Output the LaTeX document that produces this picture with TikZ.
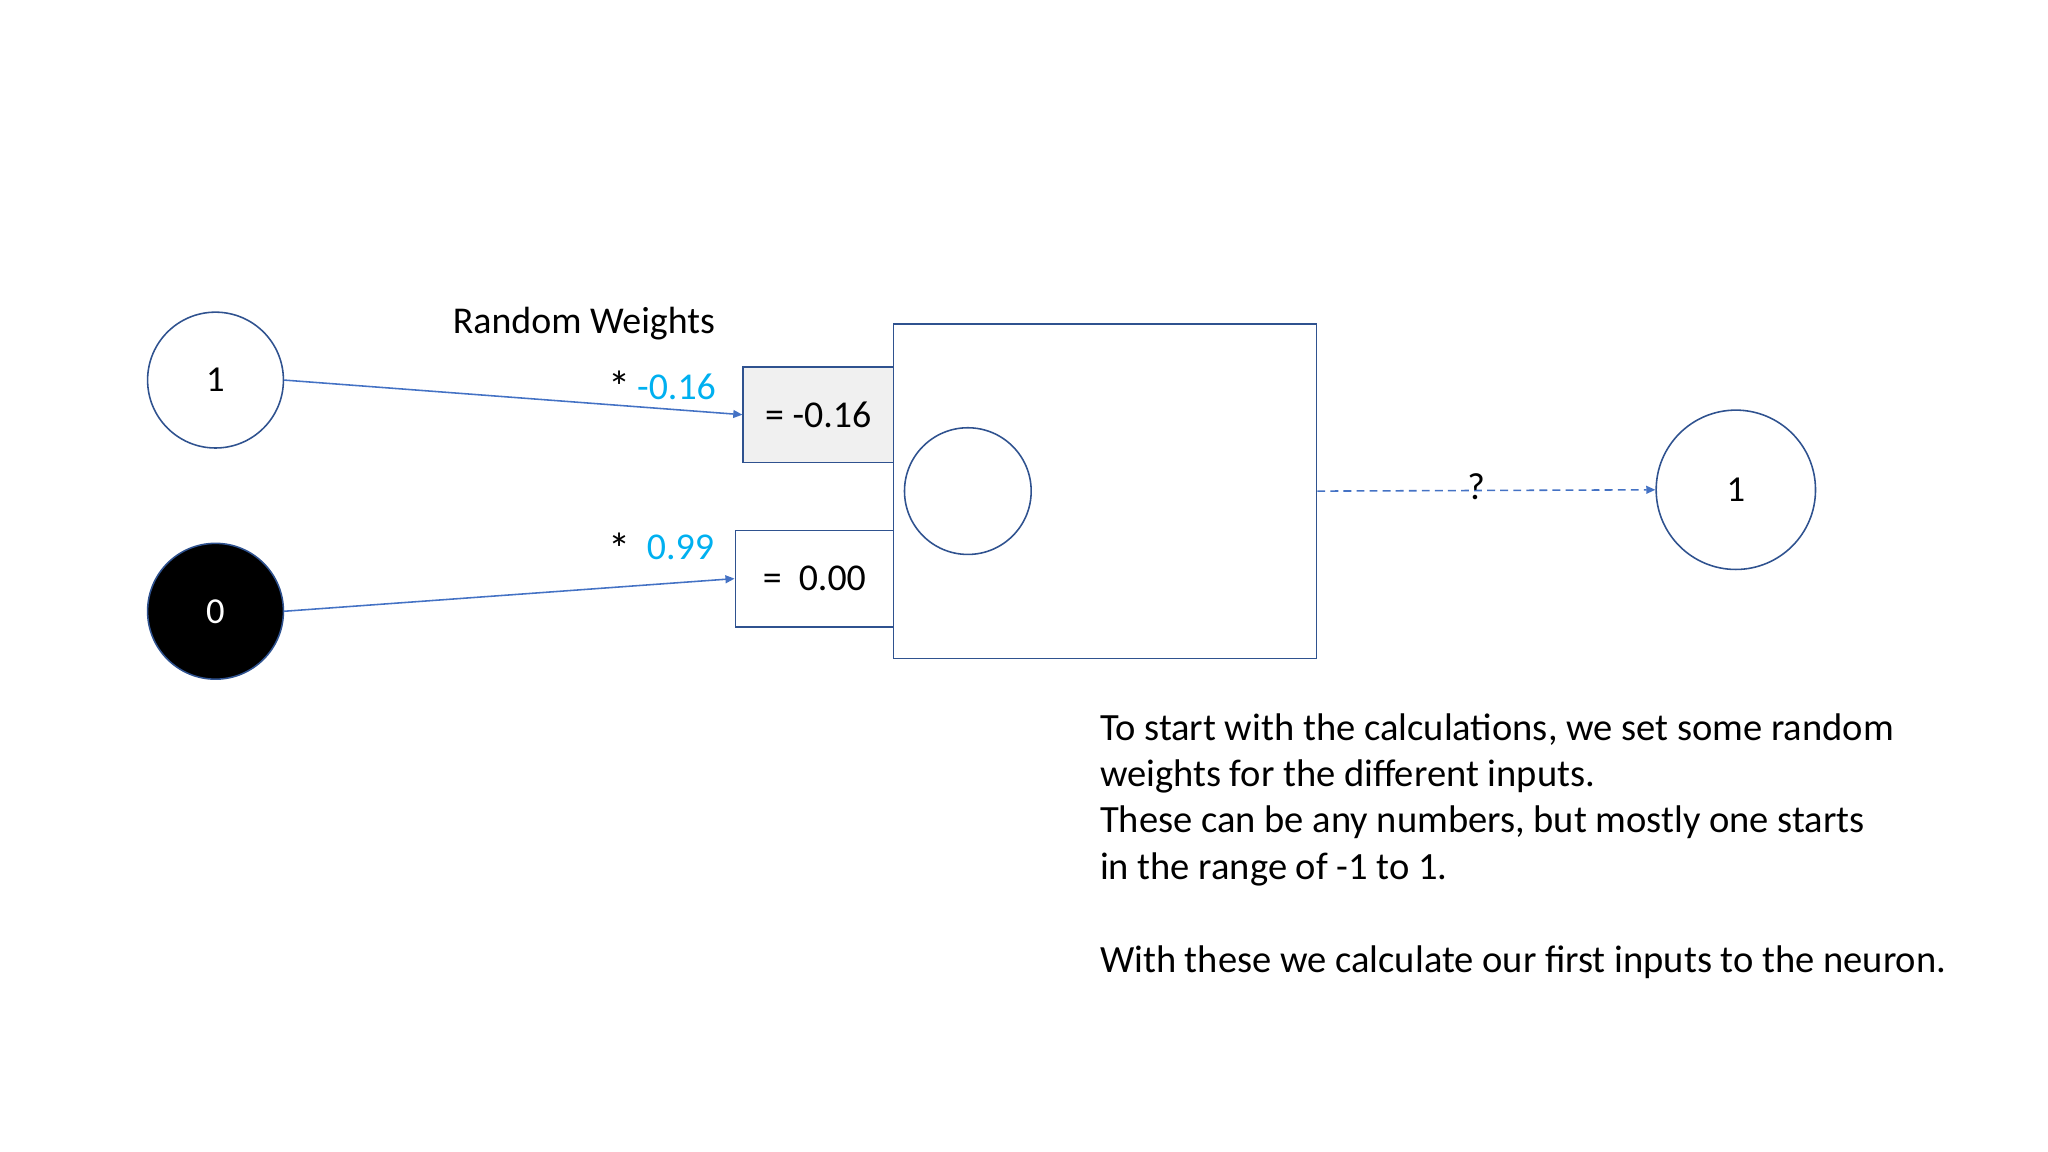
\documentclass[tikz,border=0pt]{standalone}
\usepackage{fontspec}
\setmainfont{Carlito}
\usetikzlibrary{arrows.meta}
\definecolor{edge}{HTML}{2F528F}
\definecolor{arr}{HTML}{4472C4}
\definecolor{cy}{HTML}{00B0F0}
\tikzset{
  neuron/.style={circle,draw=edge,line width=1.2pt,inner sep=0pt,font=\fontsize{28}{32}\selectfont},
  calcbox/.style={draw=edge,line width=1.2pt,inner sep=0pt,font=\fontsize{29}{33}\selectfont},
  wire/.style={draw=arr,line width=1.2pt,-{Triangle[length=7pt,width=6pt]}},
  lbl/.style={inner sep=0pt,font=\fontsize{29}{33}\selectfont},
}
\begin{document}
\begin{tikzpicture}[x=1pt,y=-1pt]
\useasboundingbox (0,0) rectangle (1568,882);
\node[neuron,minimum size=104pt] (in1) at (165,291) {1};
\node[neuron,minimum size=104pt,fill=black,text=white] (in0) at (165,468) {0};
\node[calcbox,fill=black!6,minimum width=115pt,minimum height=73pt] (b1) at (626.5,317.5) {= -0.16};
\node[calcbox,minimum width=121pt,minimum height=74pt] (b2) at (623.5,443) {=\ \ 0.00};
\node[calcbox,minimum width=324pt,minimum height=256pt] (big) at (846,376) {};
\node[neuron,minimum size=97pt] (sum) at (741,376) {};
\node[neuron,minimum size=122pt] (out) at (1329,375) {1};
\node[lbl] (rw) at (447,248) {Random Weights};
\node[lbl,font=\fontsize{34}{36}\selectfont] (s1) at (474,296) {*};
\node[lbl,text=cy] (w1) at (518,296) {-0.16};
\node[lbl,font=\fontsize{34}{36}\selectfont] (s2) at (474,420) {*};
\node[lbl,text=cy] (w2) at (521,419) {0.99};
\draw[wire] (in1.east) -- (b1.west);
\draw[wire] (in0.east) -- (b2.west);
\draw[wire,dash pattern=on 6pt off 4pt] (big.east) -- node[lbl,pos=0.47,above=-8pt] (q) {?} (out.west);
\node[lbl,anchor=north west,align=left,font=\fontsize{29.5}{35.5}\selectfont] (txt) at (842,546) {To start with the calculations, we set some random\\weights for the different inputs.\\These can be any numbers, but mostly one starts\\in the range of -1 to 1.\\[35.5pt]With these we calculate our first inputs to the neuron.};
\end{tikzpicture}
\end{document}
